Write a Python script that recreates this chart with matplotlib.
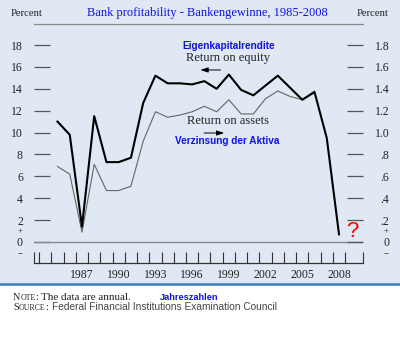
import matplotlib
matplotlib.use("Agg")
from matplotlib import pyplot as plt
from matplotlib.patches import Rectangle
from matplotlib.lines import Line2D
import numpy as np

# data
years_roe = list(range(1985, 2009))
roe = [11.0, 9.8, 1.4, 11.5, 7.3, 7.3, 7.7, 12.7, 15.2, 14.5, 14.5, 14.4,
       14.7, 14.0, 15.3, 13.9, 13.4, 14.3, 15.2, 14.1, 13.0, 13.7, 9.5, 0.7]
years_roa = list(range(1985, 2007))
roa = [0.69, 0.62, 0.09, 0.71, 0.47, 0.47, 0.51, 0.92, 1.19, 1.14, 1.16, 1.19,
       1.24, 1.19, 1.30, 1.17, 1.17, 1.31, 1.38, 1.33, 1.30, 1.38]

year_labels = [1987, 1990, 1993, 1996, 1999, 2002, 2005, 2008]
left_ticks = [0, 2, 4, 6, 8, 10, 12, 14, 16, 18]
left_labels = ["0", "2", "4", "6", "8", "10", "12", "14", "16", "18"]
right_ticks = [0, .2, .4, .6, .8, 1.0, 1.2, 1.4, 1.6, 1.8]
right_labels = ["0", ".2", ".4", ".6", ".8", "1.0", "1.2", "1.4", "1.6", "1.8"]

SERIF = "Liberation Serif"
SANS = "Liberation Sans"
BLUE = "#1010ee"
BG = "#dfe8f3"

W, H = 400, 348
fig = plt.figure(figsize=(W / 100., H / 100.), dpi=100)
fig.patch.set_facecolor("white")

def fx(px):
    return px / float(W)

def fy(py):
    return 1 - py / float(H)

# light blue panel + blue rule under it
fig.patches.append(Rectangle((0, fy(283)), 1, 1 - fy(283), transform=fig.transFigure,
                             facecolor=BG, edgecolor="none", zorder=-5))
fig.add_artist(Line2D([0, 1], [fy(283.5)] * 2, transform=fig.transFigure,
                      color="#3a78c0", lw=1.8, zorder=-4))

ax = fig.add_axes([fx(34), fy(263), fx(363) - fx(34), fy(24) - fy(263)])
ax.set_facecolor("none")
ax.set_xlim(1983.08, 2009.96)
ax.set_ylim(-1.919, 19.92)

ax.plot(years_roa, np.array(roa) * 10, color="#666666", lw=0.8, zorder=3)
ax.plot(years_roe, roe, color="black", lw=1.5, zorder=4)
ax.axhline(0, color="#8a8a8a", lw=1.0, zorder=2)

for s in ["left", "right"]:
    ax.spines[s].set_visible(False)
ax.spines["top"].set_color("#8a8a8a")
ax.spines["top"].set_linewidth(0.9)
ax.spines["bottom"].set_color("#333333")
ax.spines["bottom"].set_linewidth(0.9)

# x axis: ticks at year boundaries, labels at year centres
xt = [ax.get_xlim()[0]] + [y + 0.5 for y in range(1983, 2009)] + [ax.get_xlim()[1]]
ax.set_xticks(xt)
ax.set_xticklabels([""] * len(xt))
ax.set_xticks(year_labels, minor=True)
ax.set_xticklabels([str(y) for y in year_labels], minor=True, fontsize=8.5,
                   family=SERIF, color="#222222")
ax.tick_params(axis="x", which="major", direction="in", length=8, width=0.8,
               color="#333333", top=False)
ax.tick_params(axis="x", which="minor", length=0, pad=4)

# left y axis
ax.set_yticks(left_ticks)
ax.set_yticklabels(left_labels, family=SERIF, fontsize=8.5, color="#222222")
ax.tick_params(axis="y", direction="in", length=11.5, width=0.9, color="#555555", pad=8)

axr = ax.twinx()
axr.set_ylim(ax.get_ylim()[0] / 10., ax.get_ylim()[1] / 10.)
for s in axr.spines.values():
    s.set_visible(False)
axr.set_yticks(right_ticks)
axr.set_yticklabels(right_labels, family=SERIF, fontsize=8.5, color="#222222", ha="right")
axr.tick_params(axis="y", direction="in", length=11.5, width=0.9, color="#555555", pad=19)

# +/- markers around zero
for y, s in [(1.0, "+"), (-1.0, "\u2212")]:
    ax.text(-0.035, y, s, transform=ax.get_yaxis_transform(), ha="right", va="center",
            family=SERIF, fontsize=6.5, color="#222222")
    ax.text(1.0 + 26 / 329., y, s, transform=ax.get_yaxis_transform(), ha="right",
            va="center", family=SERIF, fontsize=6.5, color="#222222")

# headers
fig.text(fx(11), fy(13), "Percent", family=SERIF, fontsize=7.7, va="center", color="#222222")
fig.text(fx(389), fy(13), "Percent", family=SERIF, fontsize=7.7, va="center", ha="right",
         color="#222222")
fig.text(fx(207.5), fy(13), "Bank profitability - Bankengewinne, 1985-2008", family=SERIF,
         fontsize=9, va="center", ha="center", color=BLUE)

# annotations
ax.text(1999.0, 17.9, "Eigenkapitalrendite", family=SANS, weight="bold", fontsize=7.2,
        color=BLUE, ha="center", va="center")
ax.text(1998.9, 16.8, "Return on equity", family=SERIF, fontsize=9, color="#222222",
        ha="center", va="center")
ax.annotate("", xy=(1996.45, 15.72), xytext=(1998.55, 15.72),
            arrowprops=dict(arrowstyle="-|>,head_length=0.45,head_width=0.15",
                            color="black", lw=0.7))
ax.text(1998.9, 11.06, "Return on assets", family=SERIF, fontsize=9, color="#222222",
        ha="center", va="center")
ax.annotate("", xy=(1998.85, 9.96), xytext=(1996.75, 9.96),
            arrowprops=dict(arrowstyle="-|>,head_length=0.45,head_width=0.15",
                            color="black", lw=0.7))
ax.text(1998.85, 9.23, "Verzinsung der Aktiva", family=SANS, weight="bold", fontsize=7.2,
        color=BLUE, ha="center", va="center")
ax.text(2009.06, 1.0, "?", family=SANS, fontsize=16, color="red", ha="center",
        va="center")

# footnotes, small caps done by hand
fig.canvas.draw()
rend = fig.canvas.get_renderer()

def chain(x, y, pieces):
    for s, kw in pieces:
        t = fig.text(fx(x), fy(y), s, va="baseline", **kw)
        x += t.get_window_extent(renderer=rend).width

cap = dict(family=SERIF, fontsize=7.4, color="#222222")
sc = dict(family=SERIF, fontsize=5.6, color="#222222")
body = dict(family=SERIF, fontsize=8, color="#222222")
chain(13, 300, [("N", cap), ("OTE", sc), (":", cap)])
fig.text(fx(41), fy(300), "The data are annual.", va="baseline", **body)
fig.text(fx(160), fy(300), "Jahreszahlen", va="baseline", family=SANS, weight="bold",
         fontsize=6.7, color=BLUE)
chain(13, 309.5, [("S", cap), ("OURCE", sc), (":", cap)])
fig.text(fx(52.5), fy(309.5), "Federal Financial Institutions Examination Council",
         va="baseline", family=SANS, fontsize=7.3, color="#444444")

fig.savefig("out.png", dpi=100)
